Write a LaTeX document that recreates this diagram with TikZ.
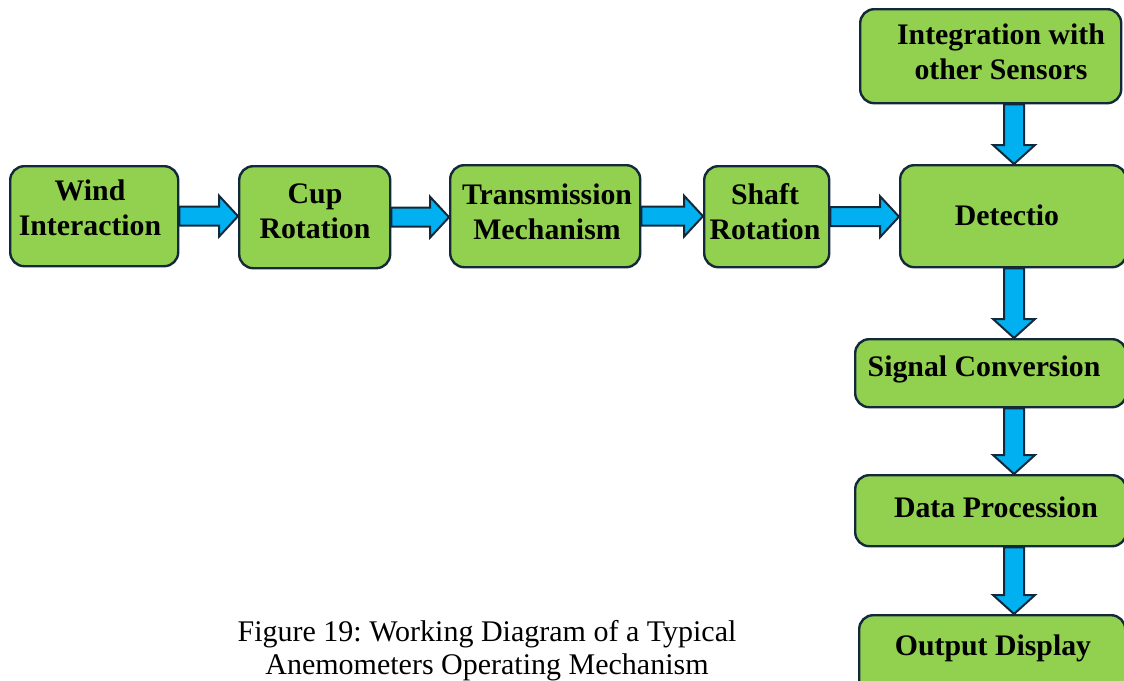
\documentclass[tikz,border=0pt]{standalone}
\usepackage{fontspec}
\setmainfont{Liberation Serif}
\usetikzlibrary{calc}
\frenchspacing
\definecolor{boxgreen}{HTML}{92D050}
\definecolor{edgedark}{HTML}{13293A}
\definecolor{arrowblue}{HTML}{00B0F0}
\tikzset{
  box/.style={draw=edgedark, line width=2.4pt, fill=boxgreen, rounded corners=14pt,
    rectangle, anchor=north west, inner sep=0pt},
  lbl/.style={align=center, inner sep=0pt, font=\fontsize{29.8}{35}\selectfont\bfseries},
  barrow/.style={draw=edgedark, line width=2pt, fill=arrowblue, line join=miter},
  captext/.style={align=center, inner sep=0pt, font=\fontsize{30}{33.5}\selectfont}
}
\newcommand\harrow[2]{%
  \draw[barrow] let \p1=(#1.east), \p2=(#2.west), \n1={\x2-19pt} in
    (\x1,\y1+9.5pt) -- (\n1,\y1+9.5pt) -- (\n1,\y1+20.5pt) -- (\x2,\y1)
    -- (\n1,\y1-20.5pt) -- (\n1,\y1-9.5pt) -- (\x1,\y1-9.5pt) -- cycle;}
\newcommand\varrow[2]{%
  \draw[barrow] let \p1=(#1.south), \p2=(#2.north), \p3=(vx), \n1={\y2+19pt} in
    (\x3-10pt,\y1) -- (\x3-10pt,\n1) -- (\x3-21pt,\n1) -- (\x3,\y2)
    -- (\x3+21pt,\n1) -- (\x3+10pt,\n1) -- (\x3+10pt,\y1) -- cycle;}
\begin{document}
\begin{tikzpicture}[x=1pt,y=-1pt]
\useasboundingbox (0,0) rectangle (1124,680);
\clip (0,0) rectangle (1124,680);
% boxes
\node[box, minimum width=168pt, minimum height=100pt] (wind) at (9,165) {};
\node[box, minimum width=151pt, minimum height=102pt] (cup) at (238,165) {};
\node[box, minimum width=190pt, minimum height=102pt] (trans) at (449,164) {};
\node[box, minimum width=125pt, minimum height=101pt] (shaft) at (703,165) {};
\node[box, minimum width=226pt, minimum height=102pt] (detect) at (899,164) {};
\node[box, minimum width=261pt, minimum height=94pt] (integ) at (859,8) {};
\node[box, minimum width=271pt, minimum height=68pt] (signal) at (854,338) {};
\node[box, minimum width=271pt, minimum height=71pt] (data) at (854,474) {};
\node[box, minimum width=266pt, minimum height=90pt] (output) at (858,614) {};
% labels
\node[lbl] (twind) at (90,208) {Wind\\Interaction};
\node[lbl] (tcup) at (315,211.5) {Cup\\Rotation};
\node[lbl] (ttrans) at (547,211.5) {Transmission\\Mechanism};
\node[lbl] (tshaft) at (765,211.5) {Shaft\\Rotation};
\node[lbl] (tdetect) at (1007,215.5) {Detectio};
\node[lbl] (tinteg) at (1001,51.5) {Integration with\\other Sensors};
\node[lbl] (tsignal) at (984,369) {Signal Conversion};
\node[lbl] (tdata) at (996,507) {Data Procession};
\node[lbl] (toutput) at (993,648.5) {Output Display};
% caption
\node[captext] (caption) at (487,650.5) {Figure 19: Working Diagram of a Typical\\Anemometers Operating Mechanism};
% arrows
\coordinate (vx) at (1014,0);
\harrow{wind}{cup}
\harrow{cup}{trans}
\harrow{trans}{shaft}
\harrow{shaft}{detect}
\varrow{integ}{detect}
\varrow{detect}{signal}
\varrow{signal}{data}
\varrow{data}{output}
\end{tikzpicture}
\end{document}
